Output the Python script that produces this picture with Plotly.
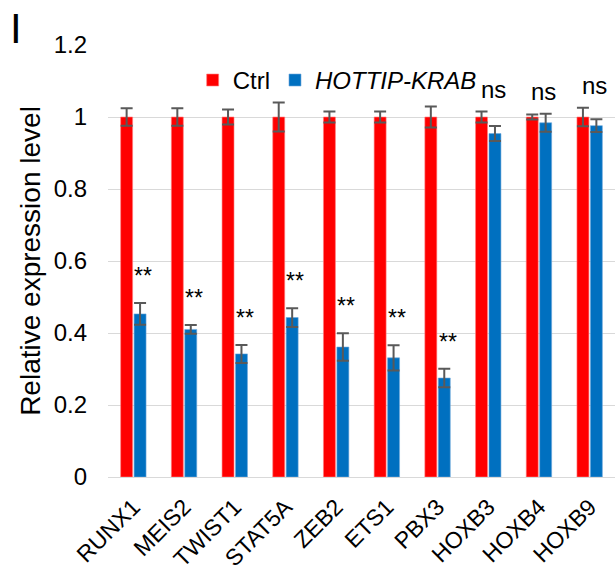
import plotly.graph_objects as go

# Relative expression after HOTTIP-KRAB knockdown
genes = ["RUNX1", "MEIS2", "TWIST1", "STAT5A", "ZEB2", "ETS1", "PBX3", "HOXB3", "HOXB4", "HOXB9"]
ctrl = [1.0, 1.0, 1.0, 1.0, 1.0, 1.0, 1.0, 1.0, 1.0, 1.0]
ctrl_err = [0.024, 0.024, 0.021, 0.040, 0.015, 0.015, 0.029, 0.015, 0.007, 0.026]
krab = [0.453, 0.410, 0.342, 0.443, 0.361, 0.331, 0.275, 0.954, 0.984, 0.976]
krab_err = [0.030, 0.012, 0.025, 0.026, 0.038, 0.035, 0.026, 0.021, 0.025, 0.018]
signif = ["**", "**", "**", "**", "**", "**", "**", "ns", "ns", "ns"]

FONT = "Liberation Sans, Arial, sans-serif"
ERR_COLOR = "#595959"

fig = go.Figure()
fig.add_trace(go.Bar(
    x=genes, y=ctrl, name="Ctrl",
    marker=dict(color="#ff0000", line=dict(color="#ff8080", width=0.6)),
    error_y=dict(type="data", array=ctrl_err, color=ERR_COLOR, thickness=2, width=6),
))
fig.add_trace(go.Bar(
    x=genes, y=krab, name="<i>HOTTIP-KRAB</i>",
    marker=dict(color="#0070c0", line=dict(color="#6fa8dc", width=0.6)),
    error_y=dict(type="data", array=krab_err, color=ERR_COLOR, thickness=2, width=6),
))

# Significance marks above each pair
for g, c, ce, k, ke, s in zip(genes, ctrl, ctrl_err, krab, krab_err, signif):
    if s == "**":
        fig.add_annotation(x=g, y=k + ke, text="**", showarrow=False,
                           xshift=10, yshift=27, yanchor="middle",
                           font=dict(family=FONT, size=23, color="black"))
    else:
        fig.add_annotation(x=g, y=max(c + ce, k + ke), text="ns", showarrow=False,
                           xshift=5, yshift=22, yanchor="middle",
                           font=dict(family=FONT, size=24, color="black"))

# Panel letter
fig.add_annotation(x=-0.197, y=1.097, xref="paper", yref="paper", text="I", showarrow=False,
                   xanchor="left", yanchor="top", font=dict(family=FONT, size=42, color="black"))

fig.update_layout(
    width=615, height=574,
    margin=dict(l=108, r=0, t=45, b=97),
    paper_bgcolor="white", plot_bgcolor="white",
    barmode="group", bargap=0.47, bargroupgap=0.11,
    font=dict(family=FONT, color="black"),
    showlegend=True,
    legend=dict(orientation="h", x=0.452, y=0.918, xanchor="center", yanchor="middle",
                font=dict(family=FONT, size=24), bgcolor="rgba(0,0,0,0)",
                itemwidth=30, tracegroupgap=0),
)
fig.update_xaxes(
    tickangle=-45, tickfont=dict(family=FONT, size=23), ticklabelstandoff=11,
    showline=False, ticks="", showgrid=False, automargin=False,
)
fig.update_yaxes(
    range=[0, 1.2], tickvals=[0, 0.2, 0.4, 0.6, 0.8, 1.0, 1.2],
    ticktext=["0", "0.2", "0.4", "0.6", "0.8", "1", "1.2"],
    tickfont=dict(family=FONT, size=24), ticklabelstandoff=20,
    showgrid=True, gridcolor="#d9d9d9", gridwidth=1.3,
    zeroline=True, zerolinecolor="#d9d9d9", zerolinewidth=1.3,
    showline=False, ticks="", automargin=False,
    title=dict(text="Relative expression level", font=dict(family=FONT, size=28), standoff=4),
)

fig.write_html("out.html")
